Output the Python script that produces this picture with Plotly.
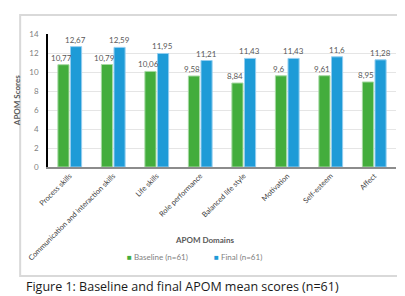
import plotly.graph_objects as go

domains = ["Process skills", "Communication and interaction skills", "Life skills",
           "Role performance", "Balanced life style", "Motivation", "Self-esteem", "Affect"]
baseline = [10.77, 10.79, 10.06, 9.58, 8.84, 9.6, 9.61, 8.95]
final = [12.67, 12.59, 11.95, 11.21, 11.43, 11.43, 11.6, 11.28]

green = "#43ad3c"
blue = "#1e9bd7"


def lab(v):
    return str(v).replace(".", ",")


fig = go.Figure([
    go.Bar(name="Baseline (n=61)", x=domains, y=baseline,
           marker=dict(color=green, line=dict(color="#a6d9a2", width=1))),
    go.Bar(name="Final (n=61)", x=domains, y=final,
           marker=dict(color=blue, line=dict(color="#93cdef", width=1))),
])

fig.update_layout(
    width=405, height=296,
    margin=dict(l=40, r=17, t=26, b=137, autoexpand=False),
    paper_bgcolor="white", plot_bgcolor="white",
    font=dict(family="Lato", color="#595959", size=8),
    barmode="group", bargap=0.42, bargroupgap=0.12,
    showlegend=False,
)
fig.update_yaxes(range=[0, 14], dtick=2, showgrid=True, gridcolor="#e5e5e5", gridwidth=1.3,
                 showline=True, linecolor="black", linewidth=1.5, ticks="",
                 ticklabelstandoff=6, automargin=False,
                 tickfont=dict(size=8, color="#7f7f7f"), zeroline=False)
fig.update_xaxes(showline=True, linecolor="#8c8c8c", linewidth=1.5, tickangle=-45,
                 automargin=False, tickfont=dict(size=7.4, color="#404040"), ticks="")

# value labels
for d, b, f in zip(domains, baseline, final):
    fig.add_annotation(x=d, y=b, text=lab(b), xref="x", yref="y", showarrow=False,
                       yanchor="bottom", xshift=-8.5, yshift=0,
                       font=dict(size=8, color="#595959"))
    fig.add_annotation(x=d, y=f, text=lab(f), xref="x", yref="y", showarrow=False,
                       yanchor="bottom", xshift=6, yshift=0,
                       font=dict(size=8, color="#595959"))

# outer frame
fig.add_shape(type="rect", xref="paper", yref="paper", x0=-0.08, x1=1.026, y0=-0.82, y1=1.143,
              line=dict(color="#d9d9d9", width=2), fillcolor="rgba(0,0,0,0)", layer="below")

fig.add_annotation(text="<b>APOM Domains</b>", xref="paper", yref="paper", x=0.45, y=-0.6,
                   showarrow=False, font=dict(size=8, color="#595959"))
fig.add_annotation(text="<b>APOM Scores</b>", xref="paper", yref="paper", x=-0.09, y=0.5,
                   xanchor="center", textangle=-90, showarrow=False,
                   font=dict(size=8, color="#595959"))
# legend as text
fig.add_annotation(text=f"<span style='color:{green}'>■</span> Baseline (n=61)",
                   xref="paper", yref="paper", x=0.222, xanchor="left", y=-0.73,
                   showarrow=False, font=dict(size=8, color="#7f7f7f"))
fig.add_annotation(text=f"<span style='color:{blue}'>■</span> Final (n=61)",
                   xref="paper", yref="paper", x=0.47, xanchor="left", y=-0.73,
                   showarrow=False, font=dict(size=8, color="#7f7f7f"))
fig.add_annotation(text="Figure 1: Baseline and final APOM mean scores (n=61)",
                   xref="paper", yref="paper", x=-0.068, xanchor="left", y=-0.975,
                   showarrow=False,
                   font=dict(family="Open Sans", size=12.5, color="#1a1a1a", weight=500))

fig.write_html("out.html")
